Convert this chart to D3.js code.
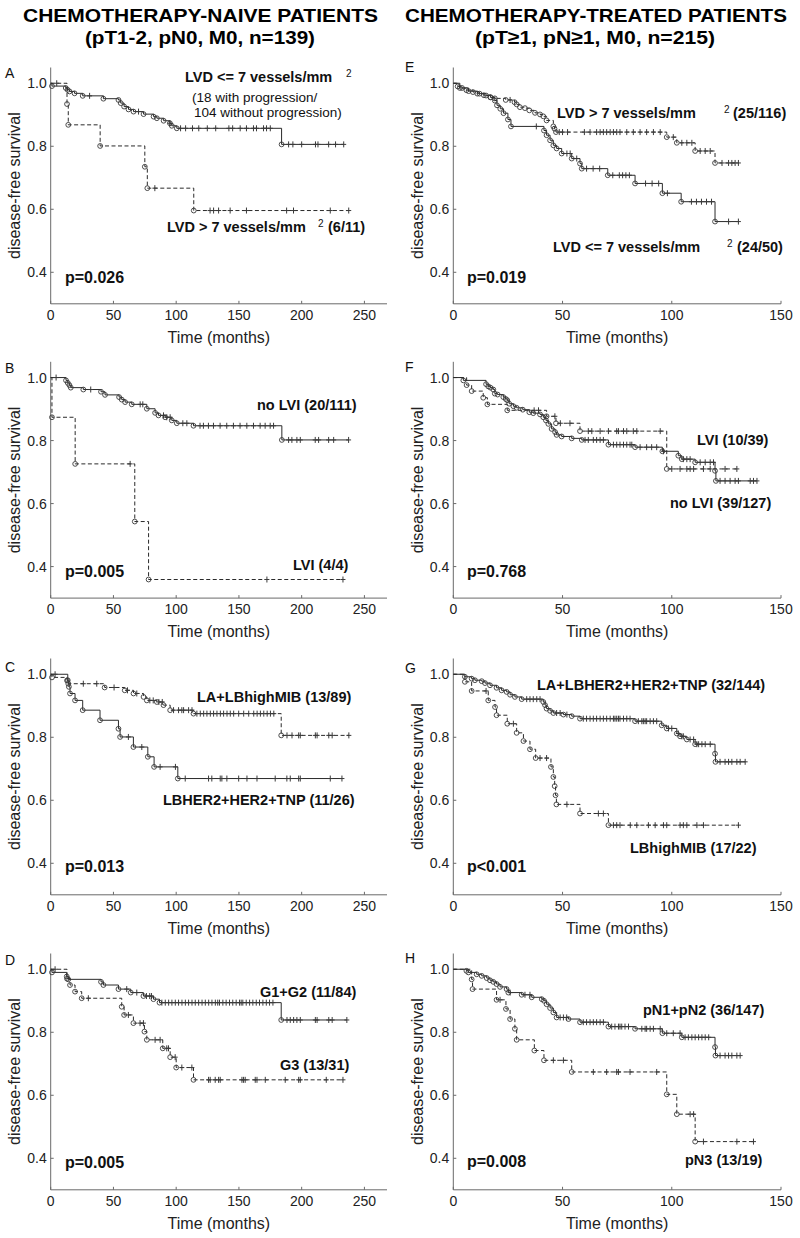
<!DOCTYPE html>
<html><head><meta charset="utf-8">
<script src="https://cdn.jsdelivr.net/npm/d3@7"></script>
<style>
body{margin:0;background:#fff}
svg{display:block;font-family:Arial,"Liberation Sans",sans-serif}
</style></head>
<body><svg id="c" width="800" height="1238"></svg>
<script>
// ---------------- DATA ----------------
// events: [time (months), survival after event]; censor: censored times
const A_le7_events = [[1,0.991],[12,0.985],[13.5,0.979],[15,0.974],[19,0.968],[25.5,0.96],[42,0.951],[54,0.947],[55.8,0.937],[58.5,0.926],[62,0.917],[66,0.91],[74,0.902],[82,0.894],[84.6,0.889],[90,0.881],[95,0.873],[96.5,0.865],[100.5,0.857],[184,0.806]];
const A_le7_censor = [31,70,95,103.5,107.5,113,118,124.8,131.5,142,145,151,156,161.6,164,169.6,172,175,189.6,193,200,211,213,221.5,227,233.5];
const A_gt7_events = [[13,0.934],[14,0.868],[39.4,0.801],[75,0.735],[77,0.667],[114,0.596]];
const A_gt7_censor = [4.8,83,127,129.8,133.8,143,156,188,193.5,222.8,237.5];

const B_no_events = [[12.2,0.991],[13.6,0.983],[14.9,0.976],[16,0.968],[26,0.962],[40.1,0.955],[43.3,0.945],[54.5,0.938],[56.6,0.93],[59.3,0.922],[64.6,0.915],[76.6,0.901],[83.2,0.888],[85.9,0.88],[91.2,0.874],[96.5,0.864],[100.5,0.855],[113.8,0.847],[184.2,0.802]];
const B_no_censor = [4.3,31.9,71.3,73.4,89.9,92.5,95.2,105.3,108.5,119,121.7,125.7,129.7,135,140.3,145.6,150.9,156.3,161.6,166.9,170.9,174.9,177.6,189.6,192.2,196.2,198.9,210.8,213.5,221.5,225.5,237.4];
const B_lvi_events = [[1,0.874],[19.5,0.726],[67,0.543],[78,0.359]];
const B_lvi_censor = [63.3,172.3,232.9];

const C_la_events = [[1,0.99],[13,0.98],[14,0.97],[43,0.958],[59,0.949],[66,0.939],[74,0.928],[76.6,0.917],[84.6,0.912],[89.9,0.902],[95.2,0.886],[113.8,0.875],[183.7,0.806]];
const C_la_censor = [26,36.7,50.5,61.2,68.6,79,81.7,86.2,88.9,97.9,101.9,104.5,105.9,109.9,112.6,116.5,119.2,121.9,124.5,127.2,129.8,132.5,135.2,137.8,140.5,143.1,145.8,149.8,153.8,157.8,161.8,164.5,167.1,169.8,172.5,175.1,177.8,188.3,192.3,197.6,198.9,210.9,212.3,221.6,224.3,237.6];
const C_lb_events = [[13.6,0.981],[14.5,0.96],[15.4,0.939],[19.4,0.917],[25.5,0.886],[39.3,0.854],[54,0.827],[55.3,0.801],[65.9,0.769],[77.4,0.738],[82.4,0.706],[101.3,0.669]];
const C_lb_censor = [3.5,61.9,72.6,87.2,99.4,107.2,125.8,128.4,135.1,136.4,140.4,149.8,156.4,164.4,178.9,188.2,190.9,197.6,198.9,222.8,232.1];

const D_g12_events = [[1,0.99],[12.8,0.977],[14,0.968],[40.1,0.96],[42,0.95],[54,0.937],[63.8,0.926],[73.9,0.915],[81.9,0.905],[86.7,0.894],[183.7,0.839]];
const D_g12_censor = [60.6,68.6,76.3,78.9,80.3,88.6,91.3,94,96.6,99.3,101.9,104.6,107.3,109.9,112.6,115.2,117.9,120.6,123.2,125.9,128.5,131.2,133.1,134.5,137.2,139.8,142.5,145.1,147.8,150.5,151.8,153.1,155.8,158.5,161.1,163.8,166.4,169.1,171.8,174.4,177.1,188.3,190.9,193.6,196.2,198.9,210.9,212.3,221.6,224.3,236];
const D_g3_events = [[13,0.97],[15.4,0.95],[19.4,0.929],[24.7,0.908],[56.6,0.881],[58.5,0.855],[65.9,0.829],[74.7,0.802],[76.6,0.776],[89.3,0.749],[95.2,0.721],[100,0.688],[113.8,0.649]];
const D_g3_censor = [3.5,30,61.9,71.2,73.9,83.2,87.2,92.5,93.9,99.2,104.5,112.5,125.8,127.1,131.1,133.8,135.1,152.4,153.7,155,163,164.4,171,186.9,197.6,198.9,219.6,232.9];

const E_gt7_events = [[2,0.99],[4,0.985],[6,0.978],[9,0.972],[12,0.967],[15,0.961],[17,0.956],[19,0.952],[24,0.947],[28,0.94],[29,0.933],[30.5,0.924],[32.8,0.921],[34.8,0.914],[37.4,0.906],[39.7,0.901],[41.2,0.895],[42.7,0.882],[45.8,0.863],[46.3,0.856],[47,0.845],[97.7,0.829],[102.3,0.811],[110.7,0.785],[119.8,0.747]];
const E_gt7_censor = [26,48.5,50,52.3,60,62.6,65.6,67.2,68.7,70.2,71.8,73.3,74.8,76.3,79.4,82.4,85.5,88.5,91.6,94.7,100.7,104.6,106.9,109.2,113,115.3,117.6,123,126,127.5,129,130.5];
const E_le7_events = [[3,0.985],[7,0.975],[11,0.967],[14,0.962],[17,0.955],[19,0.945],[20,0.93],[21.5,0.919],[23,0.905],[25,0.885],[26.4,0.863],[41.5,0.85],[42.7,0.835],[44.3,0.819],[45.8,0.803],[47.3,0.793],[49.6,0.777],[54.2,0.761],[58,0.745],[58.8,0.729],[70.7,0.708],[83.2,0.682],[95.7,0.651],[104.3,0.624],[119.8,0.561]];
const E_le7_censor = [38,52,53.5,56.5,61,64,67,73,76,77.5,79,80.6,88,91,94,98,109,111.3,113.6,115.9,118.2,126,130.5];

const F_lvi_events = [[6.1,0.976],[8.4,0.957],[13.7,0.936],[15.6,0.915],[24.7,0.896],[42.7,0.877],[47,0.855],[58,0.83],[97.7,0.71]];
const F_lvi_censor = [37,39,46.5,49,53.4,61.8,63.4,67.2,71,74.8,75.6,77.9,79.4,82.4,84,94.7,100,103.8,106.9,108.4,110,114.5,117.6,124.4,129.8];
const F_no_events = [[4.6,0.991],[15,0.979],[16,0.972],[17,0.968],[18.3,0.962],[19,0.949],[20.3,0.946],[22.9,0.938],[24,0.932],[24.7,0.928],[25.6,0.917],[27.5,0.909],[29,0.904],[31.8,0.898],[34.8,0.89],[36.6,0.887],[39.7,0.883],[41.2,0.874],[42.4,0.864],[43.5,0.853],[45,0.837],[46.6,0.827],[47.3,0.818],[49.6,0.813],[54.2,0.807],[58.8,0.802],[71,0.787],[83.2,0.779],[95.7,0.766],[103,0.752],[104.6,0.741],[110.7,0.731],[119.8,0.704],[120.2,0.672]];
const F_no_censor = [60.3,61.8,64.1,65.6,67.2,68.7,73.3,74.8,76.3,77.9,79.4,80.9,81.7,85.5,88.5,90.8,93.1,96.2,105.3,106.9,108.4,113,115.3,117.6,119.1,122.1,124.4,126.7,129,130.5,135.9,137.4,139];

const G_la_events = [[5.3,0.992],[8.4,0.986],[9.9,0.981],[13,0.978],[14.5,0.972],[16.8,0.965],[19.8,0.957],[22.1,0.949],[24.4,0.944],[26,0.935],[28.2,0.928],[31.3,0.921],[41.2,0.912],[42,0.902],[42.7,0.891],[44.3,0.884],[45.8,0.877],[50.4,0.872],[54.2,0.867],[58,0.859],[83.2,0.851],[95.4,0.838],[97.7,0.828],[102.3,0.812],[103.8,0.803],[106.9,0.793],[110.7,0.778],[119.8,0.748],[120,0.722]];
const G_la_censor = [33.6,35.1,36.6,38.2,39.7,47.3,48.9,52,59.5,61,62.6,64.1,65.6,67.2,68.7,70.2,71.8,73.3,74,74.8,75.6,76.3,77.9,79.4,80.9,84.7,86.3,87,87.8,88.5,90.1,91.6,93.1,98.5,100,103,104.6,105.3,108.4,110,111.5,112.3,113.8,115.3,117.6,122.1,124.4,126,127.5,129.8,131.3,133.6];
const G_lb_events = [[5.3,0.976],[8.4,0.947],[16,0.917],[19.1,0.896],[19.8,0.87],[24.7,0.843],[29,0.814],[32.1,0.788],[35.1,0.762],[37.7,0.734],[44.7,0.706],[45.8,0.674],[46.4,0.645],[46.8,0.616],[47.2,0.587],[58,0.558],[71,0.521]];
const G_lb_censor = [15,27.5,39.7,42.7,52,66.4,68.7,73.3,74.8,76.3,81,84,89.3,92.4,96.2,97.7,103.8,105.3,106.9,111.5,114.5,130.5];

const H_n12_events = [[6,0.995],[6.9,0.99],[10.7,0.984],[13,0.979],[15.3,0.972],[16.8,0.965],[18.3,0.96],[19.8,0.953],[21.4,0.944],[24.4,0.937],[25.2,0.926],[31.3,0.919],[35.9,0.911],[40.5,0.905],[41.5,0.9],[42.7,0.889],[44.3,0.877],[45.8,0.863],[47.3,0.847],[52.7,0.842],[58,0.832],[71,0.818],[83.2,0.811],[95.7,0.797],[104.6,0.784],[119.8,0.753],[120,0.726]];
const H_n12_censor = [26,32.8,35.1,48.9,50.4,51.9,59.5,61,62.6,64.1,65.6,67.2,68.7,72.5,74,75.6,76.3,77.1,78.6,80.2,86.3,87.8,88.5,90.1,91.6,94.7,97.7,100.7,103.8,106.1,107.6,109.2,110.7,112.3,113.8,115.3,116.9,122.1,124.4,126,127.5,129.8,131.3];
const H_n3_events = [[8.4,0.968],[8.8,0.937],[19.8,0.903],[24.1,0.874],[26,0.842],[28.2,0.811],[29,0.776],[37.1,0.742],[41.5,0.711],[54.2,0.674],[97.7,0.603],[102.3,0.54],[110.7,0.453]];
const H_n3_censor = [21.4,45.8,50.4,64.1,70.2,74.8,75.6,80.9,93.1,108.4,110,114.5,129.8,137.4];

const yTicks = [0.4,0.6,0.8,1.0];
const xTicksLeft = [0,50,100,150,200,250];
const xTicksRight = [0,50,100,150];
const panelLetters = ["A","B","C","D","E","F","G","H"];
const pValues = ["p=0.026","p=0.005","p=0.013","p=0.005","p=0.019","p=0.768","p<0.001","p=0.008"];
const titles = [["CHEMOTHERAPY-NAIVE PATIENTS","(pT1-2, pN0, M0, n=139)"],["CHEMOTHERAPY-TREATED PATIENTS","(pT\u22651, pN\u22651, M0, n=215)"]];

// ---------------- LAYOUT ----------------
const svg = d3.select("#c");
const cols = [{x0:50.7,x1:387,dom:[0,268],ticks:xTicksLeft,ylab:20},{x0:453.3,x1:781,dom:[0,150],ticks:xTicksRight,ylab:423}];
const tops = [67.5,361.8,658.5,953.5];
const PH = 236.3;
const curvesByPanel = {
  A:[[A_le7_events,A_le7_censor,false],[A_gt7_events,A_gt7_censor,true]],
  B:[[B_no_events,B_no_censor,false],[B_lvi_events,B_lvi_censor,true]],
  C:[[C_la_events,C_la_censor,true],[C_lb_events,C_lb_censor,false]],
  D:[[D_g12_events,D_g12_censor,false],[D_g3_events,D_g3_censor,true]],
  E:[[E_gt7_events,E_gt7_censor,true],[E_le7_events,E_le7_censor,false]],
  F:[[F_lvi_events,F_lvi_censor,true],[F_no_events,F_no_censor,false]],
  G:[[G_la_events,G_la_censor,false],[G_lb_events,G_lb_censor,true]],
  H:[[H_n12_events,H_n12_censor,false],[H_n3_events,H_n3_censor,true]]
};
const letterY = [78,373,672,965];
const letterYR = [72,372,673,963];
const pY = [282.5,576.5,871.5,1167.5];
const pYR = [282.5,576.5,871.5,1166.5];

const axisColor = "#6a6a6a", lineColor = "#2a2a2a", markColor = "#3a3a3a";

panelLetters.forEach((L,i)=>{
  const c = i<4?0:1, r = i%4;
  const col = cols[c];
  const top = tops[r], bot = top+PH;
  const x = d3.scaleLinear().domain(col.dom).range([col.x0,col.x1]);
  const y = d3.scaleLinear().domain([0.3,1.05]).range([bot,top]);
  const g = svg.append("g");
  g.append("line").attr("x1",col.x0).attr("x2",col.x0).attr("y1",top).attr("y2",bot).attr("stroke",axisColor);
  g.append("line").attr("x1",col.x0).attr("x2",col.x1).attr("y1",bot).attr("y2",bot).attr("stroke",axisColor);
  yTicks.forEach(v=>{
    g.append("line").attr("x1",col.x0).attr("x2",col.x0+3).attr("y1",y(v)).attr("y2",y(v)).attr("stroke",axisColor);
    g.append("text").attr("x",col.x0-4).attr("y",y(v)).attr("dy","0.36em").attr("text-anchor","end")
      .attr("font-size",14).attr("fill","#222").text(d3.format(".1f")(v));
  });
  col.ticks.forEach(v=>{
    g.append("line").attr("x1",x(v)).attr("x2",x(v)).attr("y1",bot).attr("y2",bot-3).attr("stroke",axisColor);
    g.append("text").attr("x",x(v)).attr("y",bot+16).attr("text-anchor","middle")
      .attr("font-size",14).attr("fill","#222").text(v);
  });
  g.append("text").attr("x",(col.x0+col.x1)/2).attr("y",bot+39).attr("text-anchor","middle")
    .attr("font-size",16).attr("fill","#222").text("Time (months)");
  g.append("text").attr("transform",`translate(${col.ylab},${(top+bot)/2}) rotate(-90)`)
    .attr("text-anchor","middle").attr("font-size",16).attr("fill","#222").text("disease-free survival");
  g.append("text").attr("x",c?405:5).attr("y",c?letterYR[r]:letterY[r]).attr("font-size",14).attr("fill","#111").text(L);
  g.append("text").attr("x",c?467:65).attr("y",c?pYR[r]:pY[r]).attr("font-size",16).attr("font-weight","bold").attr("fill","#111").text(pValues[i]);

  curvesByPanel[L].forEach(([ev,cen,dashed])=>{
    const lastT = ev[ev.length-1][0], lastS = ev[ev.length-1][1];
    const end = Math.max(lastT, d3.max(cen));
    const pts = [[0,1],...ev,[end,lastS]];
    const line = d3.line().x(d=>x(d[0])).y(d=>y(d[1])).curve(d3.curveStepAfter);
    g.append("path").attr("d",line(pts)).attr("fill","none").attr("stroke",lineColor)
      .attr("stroke-width",1).attr("stroke-dasharray",dashed?"4,2.5":null);
    const sAt = t => { let s=1; ev.forEach(e=>{ if(e[0]<=t) s=e[1]; }); return s; };
    g.selectAll(null).data(cen).enter().append("path")
      .attr("d",t=>{const px=x(t),py=y(sAt(t));return `M${px-2.5},${py}h5M${px},${py-3}v6`;})
      .attr("stroke",markColor).attr("stroke-width",1).attr("fill","none");
    g.selectAll(null).data(ev).enter().append("circle")
      .attr("cx",d=>x(d[0])).attr("cy",d=>y(d[1])).attr("r",2.4)
      .attr("fill","none").attr("stroke",markColor).attr("stroke-width",0.9);
  });
});

// titles
const titleBox = [[[200.5,355],[200,230]],[[596,382],[595,240]]];
titles.forEach((t,i)=>{
  [0,1].forEach(k=>{
    svg.append("text").attr("x",titleBox[i][k][0]).attr("y",k?44:22).attr("text-anchor","middle")
      .attr("font-size",19).attr("font-weight","bold")
      .attr("textLength",titleBox[i][k][1]).attr("lengthAdjust","spacingAndGlyphs").text(t[k]);
  });
});

// group labels
const groupLabels = [
  ["LVD <= 7 vessels/mm",185,82,1,14.5],["2",346,76.5,0,10],["(18 with progression/",192,102,0,13.5],["104 without progression)",194,117,0,13.5],
  ["LVD > 7 vessels/mm",167,232,1,14.5],["2",318,226.5,0,10],["(6/11)",328,232,1,14.5],
  ["no LVI (20/111)",257,410,1,14.5],["LVI (4/4)",293,570,1,14.5],
  ["LA+LBhighMIB (13/89)",197,702,1,14.5],["LBHER2+HER2+TNP (11/26)",163,805,1,14.5],
  ["G1+G2 (11/84)",260,997,1,14.5],["G3 (13/31)",280,1070,1,14.5],
  ["LVD > 7 vessels/mm",557,118,1,14.5],["2",724,112.5,0,10],["(25/116)",733,118,1,14.5],
  ["LVD <= 7 vessels/mm",553,252,1,14.5],["2",727,246.5,0,10],["(24/50)",737,252,1,14.5],
  ["LVI (10/39)",697,445,1,14.5],["no LVI (39/127)",670,508,1,14.5],
  ["LA+LBHER2+HER2+TNP (32/144)",537,690,1,14.5],["LBhighMIB (17/22)",630,853,1,14.5],
  ["pN1+pN2 (36/147)",643,1015,1,14.5],["pN3 (13/19)",685,1165,1,14.5]
];
groupLabels.forEach(([t,x,y,b,s])=>{
  svg.append("text").attr("x",x).attr("y",y).attr("font-size",s).attr("font-weight",b?"bold":"normal").attr("fill","#111").text(t);
});
</script></body></html>
